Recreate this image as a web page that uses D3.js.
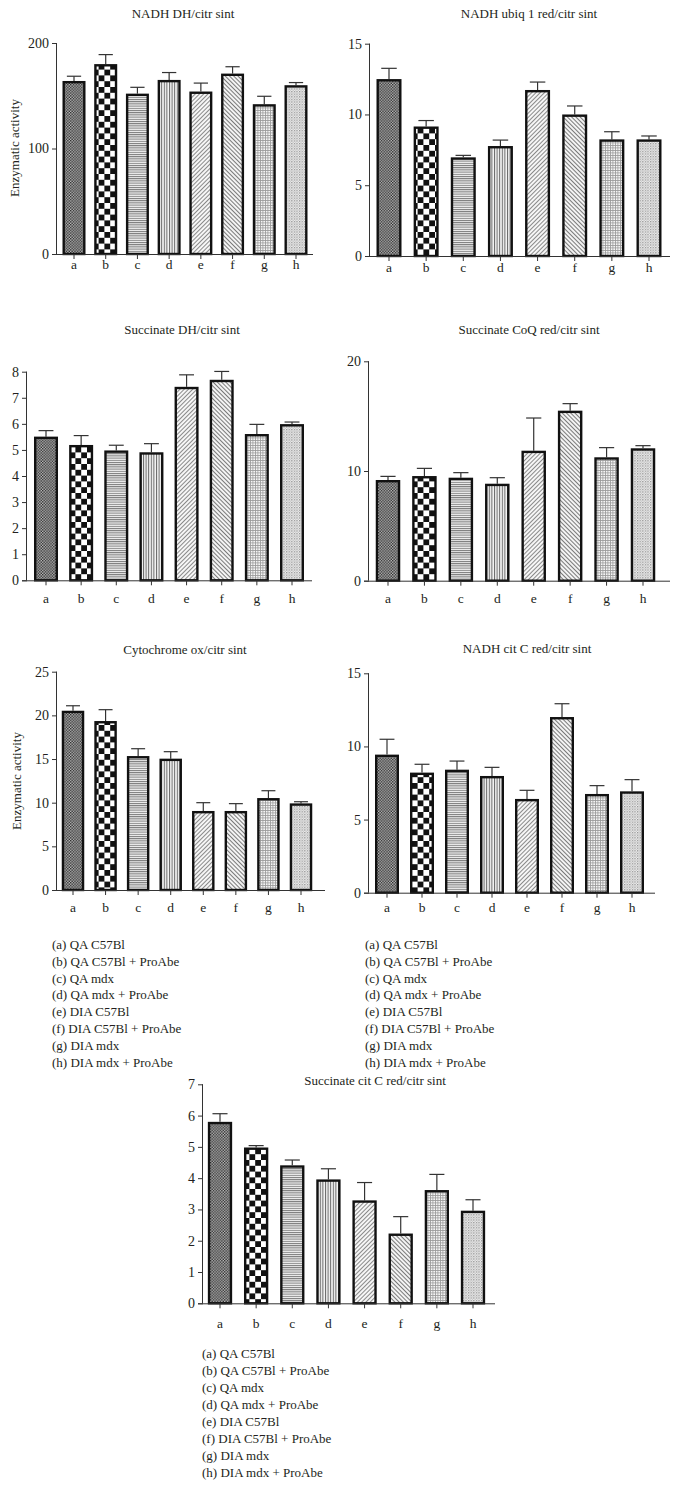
<!DOCTYPE html>
<html>
<head>
<meta charset="utf-8">
<script src="https://cdn.jsdelivr.net/npm/d3@7"></script>
<style>
  html, body { margin: 0; padding: 0; background: #fff; }
  svg { display: block; }
  text { font-family: "Liberation Serif", "DejaVu Serif", serif; fill: #231f20; }
</style>
</head>
<body>
<svg id="chart" width="678" height="1485"></svg>
<script>
// ---------- data ----------
const categories = ["a", "b", "c", "d", "e", "f", "g", "h"];
const legendLabels = [
  "(a) QA C57Bl",
  "(b) QA C57Bl + ProAbe",
  "(c) QA mdx",
  "(d) QA mdx + ProAbe",
  "(e) DIA C57Bl",
  "(f) DIA C57Bl + ProAbe",
  "(g) DIA mdx",
  "(h) DIA mdx + ProAbe"
];
const yAxisLabel = "Enzymatic activity";

const nadhDhTitle = "NADH DH/citr sint";
const nadhDhValues = [164, 180, 152, 165, 154, 171, 142, 160];
const nadhDhErrors = [4.5, 9, 6, 7, 8, 6.5, 7.5, 2.5];
const nadhDhTicks = [0, 100, 200];

const nadhUbiqTitle = "NADH ubiq 1 red/citr sint";
const nadhUbiqValues = [12.5, 9.15, 6.97, 7.77, 11.73, 10.0, 8.24, 8.24];
const nadhUbiqErrors = [0.76, 0.42, 0.14, 0.42, 0.56, 0.6, 0.54, 0.24];
const nadhUbiqTicks = [0, 5, 10, 15];

const succDhTitle = "Succinate DH/citr sint";
const succDhValues = [5.51, 5.19, 4.98, 4.91, 7.42, 7.69, 5.61, 5.99];
const succDhErrors = [0.23, 0.36, 0.2, 0.33, 0.46, 0.32, 0.37, 0.08];
const succDhTicks = [0, 1, 2, 3, 4, 5, 6, 7, 8];

const succCoqTitle = "Succinate CoQ red/citr sint";
const succCoqValues = [9.18, 9.54, 9.39, 8.84, 11.85, 15.5, 11.25, 12.07];
const succCoqErrors = [0.33, 0.7, 0.46, 0.55, 2.98, 0.64, 0.88, 0.24];
const succCoqTicks = [0, 10, 20];

const cytoTitle = "Cytochrome ox/citr sint";
const cytoValues = [20.53, 19.35, 15.34, 15.04, 9.05, 9.05, 10.53, 9.92];
const cytoErrors = [0.57, 1.3, 0.84, 0.8, 0.95, 0.84, 0.84, 0.19];
const cytoTicks = [0, 5, 10, 15, 20, 25];

const nadhCitTitle = "NADH cit C red/citr sint";
const nadhCitValues = [9.44, 8.21, 8.41, 7.98, 6.41, 12.01, 6.75, 6.93];
const nadhCitErrors = [1.05, 0.57, 0.59, 0.59, 0.59, 0.91, 0.57, 0.8];
const nadhCitTicks = [0, 5, 10, 15];

const succCitTitle = "Succinate cit C red/citr sint";
const succCitValues = [5.8, 4.98, 4.41, 3.96, 3.29, 2.23, 3.62, 2.96];
const succCitErrors = [0.26, 0.06, 0.17, 0.34, 0.57, 0.54, 0.5, 0.35];
const succCitTicks = [0, 1, 2, 3, 4, 5, 6, 7];

// ---------- patterns ----------
const svg = d3.select("#chart");
const defs = svg.append("defs");

function pat(id, w, h, build) {
  const p = defs.append("pattern").attr("id", id)
    .attr("patternUnits", "userSpaceOnUse").attr("width", w).attr("height", h);
  build(p);
}
// a: fine dark checker
pat("pA", 2.8, 2.8, p => {
  p.append("rect").attr("width", 2.8).attr("height", 2.8).attr("fill", "#bdbdbd");
  p.append("rect").attr("width", 1.4).attr("height", 1.4).attr("fill", "#2a2a2a");
  p.append("rect").attr("x", 1.4).attr("y", 1.4).attr("width", 1.4).attr("height", 1.4).attr("fill", "#2a2a2a");
});
// b: coarse checkerboard
pat("pB", 11.6, 11.6, p => {
  p.append("rect").attr("width", 11.6).attr("height", 11.6).attr("fill", "#fff");
  p.append("rect").attr("width", 5.8).attr("height", 5.8).attr("fill", "#111");
  p.append("rect").attr("x", 5.8).attr("y", 5.8).attr("width", 5.8).attr("height", 5.8).attr("fill", "#111");
});
// c: horizontal lines
pat("pC", 4, 2.2, p => {
  p.append("rect").attr("width", 4).attr("height", 2.2).attr("fill", "#f2f2f2");
  p.append("rect").attr("width", 4).attr("height", 1).attr("fill", "#777");
});
// d: vertical lines
pat("pD", 2.6, 4, p => {
  p.append("rect").attr("width", 2.6).attr("height", 4).attr("fill", "#f4f4f4");
  p.append("rect").attr("width", 1).attr("height", 4).attr("fill", "#666");
});
// e: diagonal /
pat("pE", 3, 3, p => {
  p.attr("patternTransform", "rotate(45)");
  p.append("rect").attr("width", 3).attr("height", 3).attr("fill", "#f6f6f6");
  p.append("rect").attr("width", 1).attr("height", 3).attr("fill", "#8a8a8a");
});
// f: diagonal \
pat("pF", 3, 3, p => {
  p.attr("patternTransform", "rotate(-45)");
  p.append("rect").attr("width", 3).attr("height", 3).attr("fill", "#f3f3f3");
  p.append("rect").attr("width", 1).attr("height", 3).attr("fill", "#7a7a7a");
});
// g: fine grid
pat("pG", 2.5, 2.5, p => {
  p.append("rect").attr("width", 2.5).attr("height", 2.5).attr("fill", "#f6f6f6");
  p.append("rect").attr("width", 2.5).attr("height", 0.8).attr("fill", "#9a9a9a");
  p.append("rect").attr("width", 0.8).attr("height", 2.5).attr("fill", "#9a9a9a");
});
// h: fine dots
pat("pH", 2.6, 2.6, p => {
  p.append("rect").attr("width", 2.6).attr("height", 2.6).attr("fill", "#f2f2f2");
  p.append("rect").attr("width", 1.3).attr("height", 1.3).attr("fill", "#909090");
  p.append("rect").attr("x", 1.3).attr("y", 1.3).attr("width", 1.3).attr("height", 1.3).attr("fill", "#c4c4c4");
});
const patternIds = ["pA", "pB", "pC", "pD", "pE", "pF", "pG", "pH"];

// ---------- panel drawing ----------
function drawPanel(cfg) {
  const step = (cfg.lastC - cfg.firstC) / (categories.length - 1);
  const x = d3.scaleBand().domain(categories)
    .range([cfg.firstC - step / 2, cfg.lastC + step / 2])
    .paddingInner(1 - cfg.barW / step).paddingOuter((1 - cfg.barW / step) / 2);
  const yMax = cfg.ticks[cfg.ticks.length - 1];
  const y = d3.scaleLinear().domain([0, yMax]).range([cfg.y0, cfg.yTop]);
  const g = svg.append("g");

  const rows = categories.map((c, i) => ({ c, v: cfg.values[i], e: cfg.errors[i], p: patternIds[i] }));

  // error bars (upper only)
  const capW = cfg.barW * 0.62;
  const eb = g.append("g").attr("stroke", "#333").attr("stroke-width", 1.2).attr("fill", "none");
  rows.forEach(r => {
    const cx = x(r.c) + x.bandwidth() / 2;
    eb.append("line").attr("x1", cx).attr("x2", cx).attr("y1", y(r.v)).attr("y2", y(r.v + r.e));
    eb.append("line").attr("x1", cx - capW / 2).attr("x2", cx + capW / 2).attr("y1", y(r.v + r.e)).attr("y2", y(r.v + r.e));
  });

  // bars
  g.append("g").selectAll("rect").data(rows).join("rect")
    .attr("x", d => x(d.c) + 1.2)
    .attr("width", x.bandwidth() - 2.4)
    .attr("y", d => y(d.v) + 1.2)
    .attr("height", d => y(0) - y(d.v) - 1.2)
    .attr("fill", d => `url(#${d.p})`)
    .attr("stroke", "#111").attr("stroke-width", 2.4);

  // y axis
  const ya = g.append("g").attr("transform", `translate(${cfg.axisX},0)`)
    .call(d3.axisLeft(y).tickValues(cfg.ticks).tickSize(5).tickPadding(3).tickFormat(d3.format("d")));
  ya.select(".domain").attr("stroke", "#333").attr("d", `M-0.5,${cfg.yTop}V${cfg.y0}`);
  ya.selectAll(".tick line").attr("stroke", "#333");
  ya.selectAll(".tick text").attr("font-size", 14).attr("font-family", "Liberation Serif").attr("fill", "#231f20");

  // x axis
  const xa = g.append("g").attr("transform", `translate(0,${cfg.y0})`)
    .call(d3.axisBottom(x).tickSize(5).tickFormat(""));
  xa.select(".domain").attr("stroke", "#333").attr("d", `M${cfg.axisX - 5},0.5H${cfg.axisEnd}`);
  xa.selectAll(".tick line").attr("stroke", "#333");
  g.append("g").selectAll("text").data(categories).join("text")
    .attr("x", d => x(d) + x.bandwidth() / 2)
    .attr("y", cfg.labelY)
    .attr("text-anchor", "middle").attr("font-size", 13.5)
    .text(d => d);

  // title
  g.append("text").attr("x", cfg.titleX).attr("y", cfg.titleY)
    .attr("text-anchor", "middle").attr("font-size", 13).text(cfg.title);

  if (cfg.yLabel) {
    g.append("text")
      .attr("transform", `translate(${cfg.yLabel.x},${cfg.yLabel.y}) rotate(-90)`)
      .attr("text-anchor", "middle").attr("font-size", 13).text(yAxisLabel);
  }
  if (cfg.legend) {
    g.append("g").selectAll("text").data(legendLabels).join("text")
      .attr("x", cfg.legend.x)
      .attr("y", (d, i) => cfg.legend.y + i * cfg.legend.dy)
      .attr("font-size", 13).text(d => d);
  }
}

drawPanel({ title: nadhDhTitle, values: nadhDhValues, errors: nadhDhErrors, ticks: nadhDhTicks,
  axisX: 57, yTop: 43, y0: 254, firstC: 74, lastC: 296, barW: 23, axisEnd: 313,
  labelY: 269, titleX: 183, titleY: 18, yLabel: { x: 19, y: 148 } });
drawPanel({ title: nadhUbiqTitle, values: nadhUbiqValues, errors: nadhUbiqErrors, ticks: nadhUbiqTicks,
  axisX: 370, yTop: 43.7, y0: 256, firstC: 389, lastC: 649, barW: 25, axisEnd: 670,
  labelY: 272, titleX: 529, titleY: 18 });
drawPanel({ title: succDhTitle, values: succDhValues, errors: succDhErrors, ticks: succDhTicks,
  axisX: 27, yTop: 371.7, y0: 580.3, firstC: 46, lastC: 292, barW: 24, axisEnd: 312,
  labelY: 603, titleX: 182, titleY: 334 });
drawPanel({ title: succCoqTitle, values: succCoqValues, errors: succCoqErrors, ticks: succCoqTicks,
  axisX: 369, yTop: 361.3, y0: 580.7, firstC: 388, lastC: 643, barW: 24.5, axisEnd: 670,
  labelY: 603, titleX: 529, titleY: 334 });
drawPanel({ title: cytoTitle, values: cytoValues, errors: cytoErrors, ticks: cytoTicks,
  axisX: 57, yTop: 671.7, y0: 890, firstC: 73, lastC: 301, barW: 22.5, axisEnd: 325,
  labelY: 912, titleX: 185, titleY: 654, yLabel: { x: 21, y: 781 },
  legend: { x: 52, y: 949, dy: 16.8 } });
drawPanel({ title: nadhCitTitle, values: nadhCitValues, errors: nadhCitErrors, ticks: nadhCitTicks,
  axisX: 369, yTop: 673.3, y0: 892.7, firstC: 387, lastC: 632, barW: 24, axisEnd: 655,
  labelY: 912, titleX: 527, titleY: 653,
  legend: { x: 365, y: 949, dy: 16.8 } });
drawPanel({ title: succCitTitle, values: succCitValues, errors: succCitErrors, ticks: succCitTicks,
  axisX: 203, yTop: 1084.3, y0: 1303.3, firstC: 220, lastC: 473, barW: 24.3, axisEnd: 495,
  labelY: 1328, titleX: 375, titleY: 1085,
  legend: { x: 202, y: 1357.5, dy: 17 } });
</script>
</body>
</html>
